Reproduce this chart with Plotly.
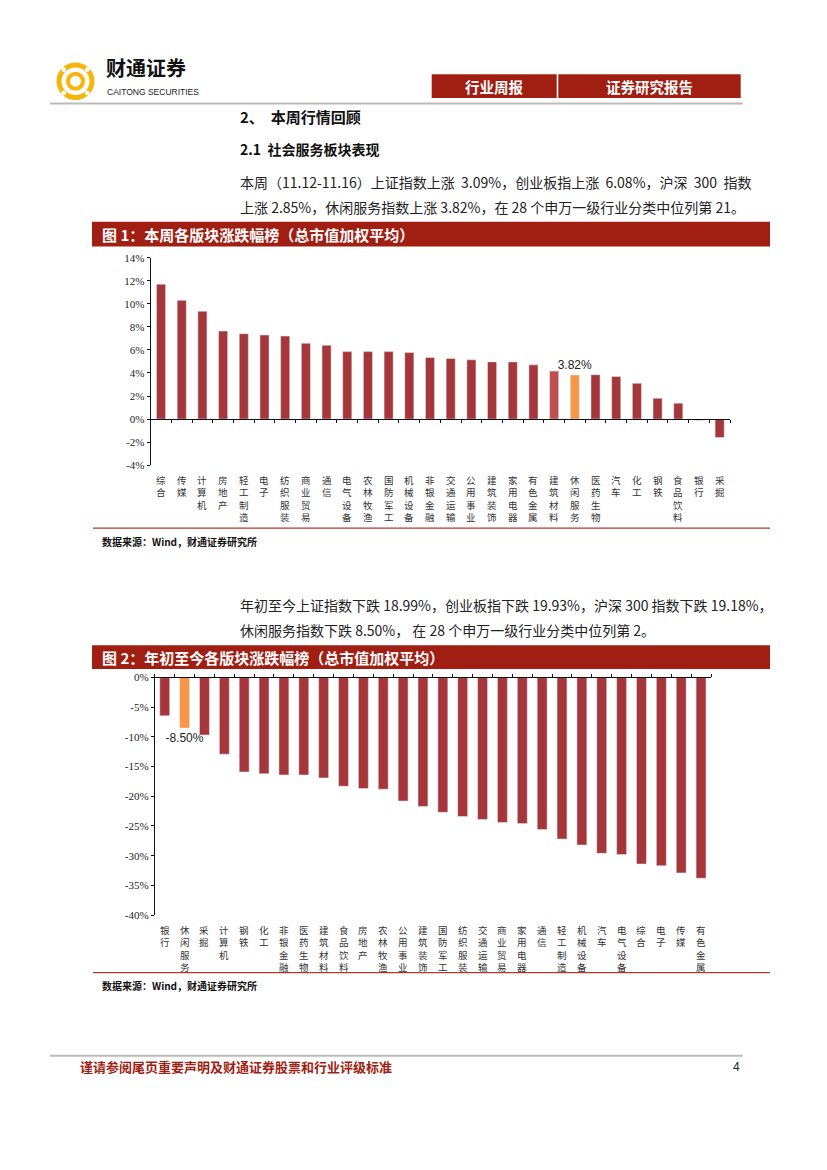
import plotly.graph_objects as go

# ---- data ----
week_cats = ["综合", "传媒", "计算机", "房地产", "轻工制造", "电子", "纺织服装", "商业贸易",
             "通信", "电气设备", "农林牧渔", "国防军工", "机械设备", "非银金融", "交通运输",
             "公用事业", "建筑装饰", "家用电器", "有色金属", "建筑材料", "休闲服务", "医药生物",
             "汽车", "化工", "钢铁", "食品饮料", "银行", "采掘"]
week_vals = [11.70, 10.30, 9.35, 7.63, 7.40, 7.29, 7.20, 6.57, 6.40, 5.85, 5.85, 5.85, 5.77,
             5.34, 5.25, 5.14, 4.96, 4.96, 4.70, 4.16, 3.82, 3.85, 3.70, 3.10, 1.80, 1.38,
             -0.10, -1.60]

ytd_cats = ["银行", "休闲服务", "采掘", "计算机", "钢铁", "化工", "非银金融", "医药生物",
            "建筑材料", "食品饮料", "房地产", "农林牧渔", "公用事业", "建筑装饰", "国防军工",
            "纺织服装", "交通运输", "商业贸易", "家用电器", "通信", "轻工制造", "机械设备",
            "汽车", "电气设备", "综合", "电子", "传媒", "有色金属"]
ytd_vals = [-6.44, -8.50, -9.67, -12.9, -15.9, -16.2, -16.4, -16.4, -16.9, -18.3, -18.7,
            -18.8, -20.8, -21.7, -22.7, -23.4, -23.9, -24.4, -24.6, -25.6, -27.2, -28.2,
            -29.6, -29.8, -31.4, -31.7, -32.9, -33.8]

week_ticks = [-4, -2, 0, 2, 4, 6, 8, 10, 12, 14]
ytd_ticks = [-40, -35, -30, -25, -20, -15, -10, -5, 0]

HIGHLIGHT = "休闲服务"
SECOND = "建筑材料"

# the browser body adds an 8px margin; keep the figure small enough not to overflow
OFF = 8
W, H = 800, 1130
BAR = "#A5373A"
BAR_LIGHT = "#C0504D"
ORANGE = "#F79646"
BAND = "#A01E12"
CJK = "Noto Sans CJK SC"


def px(x):
    return (x - OFF) / W


def py(y):
    return 1 - (y - OFF) / H


def bar_colors(cats, light=None):
    out = []
    for c in cats:
        if c == HIGHLIGHT:
            out.append(ORANGE)
        elif c == light:
            out.append(BAR_LIGHT)
        else:
            out.append(BAR)
    return out


def bar_text(cats, vals):
    return [f"{v:.2f}%" if c == HIGHLIGHT else "" for c, v in zip(cats, vals)]


label_font = dict(family="Liberation Sans", size=12, color="#222")

fig = go.Figure()
fig.add_trace(go.Bar(x=week_cats, y=week_vals, marker_color=bar_colors(week_cats, SECOND),
                     text=bar_text(week_cats, week_vals), textposition="outside",
                     textfont=label_font, constraintext="none",
                     cliponaxis=False, xaxis="x", yaxis="y", width=0.44))
fig.add_trace(go.Bar(x=ytd_cats, y=ytd_vals, marker_color=bar_colors(ytd_cats),
                     text=bar_text(ytd_cats, ytd_vals), textposition="outside",
                     textfont=label_font, constraintext="none",
                     cliponaxis=False, xaxis="x2", yaxis="y2", width=0.5))

# chart geometry (page pixels)
c1_y = (254.3, 464.0)
c2_y = (678.7, 918.7)
y1_dom = [py(c1_y[1]), py(c1_y[0])]
y2_dom = [py(c2_y[1]), py(c2_y[0])]
zero1 = y1_dom[0] + (0 - week_ticks[0]) / (week_ticks[-1] - week_ticks[0]) * (y1_dom[1] - y1_dom[0])

tickfont = dict(family="Liberation Serif", size=11, color="#222")
axis_common = dict(showline=True, linecolor="#111", linewidth=1, ticks="outside",
                   ticklen=3, tickcolor="#111", showgrid=False, zeroline=False)

fig.update_layout(
    width=W, height=H, margin=dict(l=0, r=0, t=0, b=0),
    paper_bgcolor="white", plot_bgcolor="white", showlegend=False,
    xaxis=dict(domain=[px(150.7), px(730.0)], type="category", range=[-0.5, 27.5],
               anchor="free", position=zero1, tickson="boundaries",
               showticklabels=False, **axis_common),
    yaxis=dict(domain=y1_dom, range=[week_ticks[0], week_ticks[-1]], tickmode="array",
               tickvals=week_ticks, ticktext=[f"{t}%" for t in week_ticks],
               tickfont=tickfont, anchor="x", **axis_common),
    xaxis2=dict(domain=[px(154.8), px(711.0)], type="category", range=[-0.5, 27.5],
                anchor="y2", side="top", tickson="boundaries",
                showticklabels=False, **axis_common),
    yaxis2=dict(domain=y2_dom, range=[ytd_ticks[0], ytd_ticks[-1]], tickmode="array",
                tickvals=ytd_ticks, ticktext=[f"{t}%" for t in ytd_ticks],
                tickfont=tickfont, anchor="x2", **axis_common),
)

ann = []
# vertical category labels
for c in week_cats:
    ann.append(dict(x=c, y=week_ticks[0], xref="x", yref="y", text="<br>".join(c),
                    showarrow=False, yanchor="top", yshift=-6,
                    font=dict(family=CJK, size=9.5, color="#333")))
for c in ytd_cats:
    ann.append(dict(x=c, y=ytd_ticks[0], xref="x2", yref="y2", text="<br>".join(c),
                    showarrow=False, yanchor="top", yshift=-6,
                    font=dict(family=CJK, size=9.5, color="#333")))


def txt(x, y, s, size, color="#222", bold=False, xanchor="left", family=CJK, yanchor="middle"):
    ann.append(dict(x=px(x), y=py(y), xref="paper", yref="paper",
                    text=f"<b>{s}</b>" if bold else s, showarrow=False,
                    xanchor=xanchor, yanchor=yanchor,
                    font=dict(family=family, size=size, color=color)))


shapes = []


def rect(x0, y0, x1, y1, color):
    shapes.append(dict(type="rect", xref="paper", yref="paper", x0=px(x0), x1=px(x1),
                       y0=py(y1), y1=py(y0), fillcolor=color, line=dict(width=0),
                       layer="below"))


def hline(x0, x1, y, color, width):
    shapes.append(dict(type="line", xref="paper", yref="paper", x0=px(x0), x1=px(x1),
                       y0=py(y), y1=py(y), line=dict(color=color, width=width)))


# logo
for r, wdt in [(16.5, 5), (7.5, 4)]:
    shapes.append(dict(type="circle", xref="paper", yref="paper",
                       x0=px(75.5 - r), x1=px(75.5 + r), y0=py(76 + r), y1=py(76 - r),
                       line=dict(color="#F5B50A", width=wdt)))
for dx, dy in [(-11.7, -11.7), (11.7, -11.7), (-11.7, 11.7), (11.7, 11.7)]:
    shapes.append(dict(type="circle", xref="paper", yref="paper",
                       x0=px(75.5 + dx - 2.4), x1=px(75.5 + dx + 2.4),
                       y0=py(76 + dy + 2.4), y1=py(76 + dy - 2.4),
                       fillcolor="white", line=dict(width=0)))
txt(104, 79, "财通证券", 20, color="#111", bold=True, yanchor="bottom")
txt(105, 80, "CAITONG SECURITIES", 8.5, color="#222", family="Liberation Sans", yanchor="top")

# header boxes
rect(431.7, 69, 556.7, 93, BAND)
rect(558.3, 69, 740.7, 93, BAND)
txt(494, 81, "行业周报", 14.5, color="white", bold=True, xanchor="center")
txt(649, 81, "证券研究报告", 14.5, color="white", bold=True, xanchor="center")
hline(50, 742.7, 98.5, "#BBBBBB", 2)

# section headings and text
txt(238, 112, "2、  本周行情回顾", 15, color="#111", bold=True)
txt(238, 144, "2.1  社会服务板块表现", 14, color="#111", bold=True)
txt(238, 178, "本周（11.12-11.16）上证指数上涨  3.09%，创业板指上涨  6.08%，沪深  300  指数", 14)
txt(238, 203, "上涨 2.85%，休闲服务指数上涨 3.82%，在 28 个申万一级行业分类中位列第 21。", 14)

rect(92, 218, 770, 243, BAND)
txt(100, 230.5, "图 1：本周各版块涨跌幅榜（总市值加权平均）", 15, color="white", bold=True)
hline(93, 770, 527.7, "#B0392E", 1.2)
txt(100, 541, "数据来源：Wind，财通证券研究所", 10, color="#111", bold=True)

txt(238, 605, "年初至今上证指数下跌 18.99%，创业板指下跌 19.93%，沪深 300 指数下跌 19.18%，", 14)
txt(238, 631, "休闲服务指数下跌 8.50%， 在 28 个申万一级行业分类中位列第 2。", 14)

rect(92, 646, 770, 670, BAND)
txt(100, 658, "图 2：年初至今各版块涨跌幅榜（总市值加权平均）", 15, color="white", bold=True)
hline(93, 770, 977, "#B0392E", 1.2)
txt(100, 990, "数据来源：Wind，财通证券研究所", 10, color="#111", bold=True)

# footer
hline(50, 742.7, 1061, "#BBBBBB", 2)
txt(78, 1072, "谨请参阅尾页重要声明及财通证券股票和行业评级标准", 13, color="#A01E12", bold=True)
txt(736, 1072, "4", 12, color="#222", xanchor="center", family="Liberation Sans")

fig.update_layout(annotations=ann, shapes=shapes)

fig.write_html("out.html")
